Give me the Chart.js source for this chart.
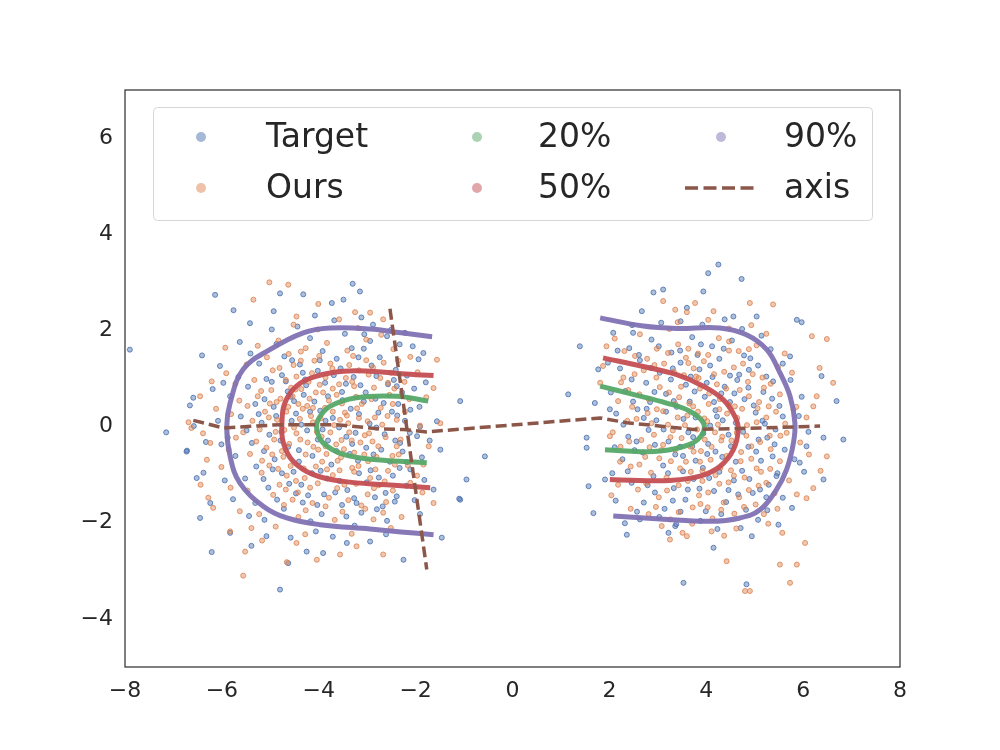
<!DOCTYPE html>
<html>
<head>
<meta charset="utf-8">
<script src="https://cdn.jsdelivr.net/npm/chart.js@4.4.1/dist/chart.umd.min.js"></script>
<style>
  html, body { margin: 0; padding: 0; background: #ffffff; }
  #plot { display: block; }
</style>
</head>
<body>
<canvas id="plot" width="1000" height="750"></canvas>
<script>
// axis ticks
const xTicks = [-8, -6, -4, -2, 0, 2, 4, 6, 8];
const yTicks = [-4, -2, 0, 2, 4, 6];

// Target samples (blue)
const targetLeft = [
  [-7.9,1.6],[-7.15,-0.12],[-6.72,-0.5],[-0.57,-0.62],[-1.10,-1.5],
  [-6.14,2.74],[-5.76,2.42],[-4.80,2.77],[-4.32,2.75],[-3.30,2.97],[-3.15,2.81],[-3.49,2.64],[-3.73,2.57],
  [-4.93,2.40],[-5.42,2.15],[-6.41,1.48],[-6.04,1.26],[-6.59,0.60],[-6.66,0.44],[-6.73,-0.52],[-6.52,-1.07],
  [-6.38,-0.96],[-6.24,-1.59],[-6.45,-1.90],[-6.21,-2.61],[-5.83,-2.21],[-5.08,-2.28],[-4.80,-3.39],[-4.63,-2.84],
  [-4.25,-2.60],[-3.91,-2.63],[-3.42,-2.42],[-2.94,-2.39],[-2.25,-2.77],[-1.46,-2.31],[-0.95,-1.10],[-1.08,-1.52],
  [-1.08,0.53],[-1.56,0.11],[-1.49,-0.48],[-1.63,-1.31],[-1.84,1.53],[-1.94,1.40],[-2.22,1.95],[-2.59,1.88],
  [-2.94,1.78],[-2.39,0.84],[-2.11,0.35],[-1.91,0.0],[-1.97,-0.2],[-2.32,-0.34],[-2.11,-0.89],[-2.39,-1.45],
  [-2.80,-1.72],[-3.22,-1.59],
  [-4.87,1.72],[-4.55,1.38],[-4.18,1.84],[-3.92,1.57],[-3.46,1.93],[-3.07,1.62],[-2.74,1.44],[-2.41,1.18],
  [-5.23,1.31],[-4.76,1.07],[-4.39,1.29],[-4.02,1.16],[-3.63,1.41],[-3.28,1.03],[-2.91,1.27],[-2.57,0.88],
  [-2.18,1.06],[-5.46,0.83],[-5.12,0.57],[-4.68,0.94],[-4.31,0.66],[-3.87,0.91],[-3.52,0.72],[-3.14,0.86],
  [-2.83,0.58],[-2.36,0.47],[-2.03,0.79],[-5.61,0.21],[-5.18,0.08],[-4.93,0.41],[-4.47,0.27],[-4.09,0.52],
  [-3.71,0.18],[-3.34,0.37],[-2.95,0.06],[-2.49,0.31],[-2.12,-0.13],[-5.38,-0.34],[-5.02,-0.17],[-4.63,-0.42],
  [-4.24,-0.08],[-3.81,-0.29],[-3.43,-0.21],[-3.02,-0.44],[-2.64,-0.16],[-2.27,-0.52],[-5.29,-0.83],[-4.91,-0.68],
  [-4.52,-0.94],[-4.13,-0.61],[-3.74,-0.79],[-3.36,-0.57],[-2.93,-0.91],[-2.53,-0.73],[-5.04,-1.27],[-4.61,-1.19],
  [-4.22,-1.43],[-3.83,-1.08],[-3.41,-1.32],[-3.01,-1.16],[-2.62,-1.38],[-2.19,-1.23],[-4.72,-1.71],[-4.33,-1.58],
  [-3.94,-1.82],[-3.52,-1.63],[-3.12,-1.79],[-2.68,-1.66],[-5.31,-1.59],[-5.72,-0.61],[-5.83,0.63],[-5.41,1.52],
  [-3.68,2.21],[-4.44,2.08],[-2.88,2.12],[-2.33,1.71],[-1.92,0.41],[-1.87,-0.64],[-2.02,-1.53],[-3.26,-2.06],
  [-4.06,-2.18],[-5.12,-1.94],[-5.94,-1.12],[-6.08,0.12],[-5.88,-0.23],[-4.36,0.04],[-3.58,-0.02],[-3.97,0.33],
  [-4.77,-0.11],[-2.77,0.29],[-3.19,-0.71],[-4.41,-0.73],[-3.69,1.07],[-4.58,0.62],[-2.47,-1.02],[-3.89,-1.41],
  [-5.52,-1.08],[-5.66,1.03],[-2.22,0.12],[-4.97,0.93],[-3.32,1.63],[-4.14,-0.97],[-3.07,0.52],[-2.71,-0.48],
  [-4.71,1.46],[-4.33,1.12],[-3.98,1.38],[-3.55,1.21],[-3.18,1.44],[-2.81,1.05],[-2.45,0.97],[-5.08,0.99],
  [-4.64,0.73],[-4.26,0.86],[-3.81,0.63],[-3.44,0.89],[-3.03,0.71],[-2.66,0.49],[-2.28,0.71],[-5.31,0.47],
  [-4.88,0.22],[-4.51,0.53],[-4.18,0.31],[-3.86,0.12],[-3.51,0.55],[-3.17,0.26],[-2.81,-0.02],[-2.38,0.23],
  [-5.49,-0.08],[-5.13,-0.51],[-4.79,-0.29],[-4.41,-0.49],[-4.02,-0.27],[-3.63,-0.51],[-3.24,-0.13],[-2.87,-0.58],
  [-2.42,-0.29],[-5.14,-1.09],[-4.76,-0.97],[-4.36,-1.21],[-3.96,-0.92],[-3.57,-1.13],[-3.17,-0.97],[-2.76,-1.06],
  [-2.33,-0.86],[-4.86,-1.52],[-4.47,-1.39],[-4.03,-1.63],[-3.66,-1.37],[-3.27,-1.49],[-2.84,-1.47],[-2.43,-1.56],
  [-5.44,-1.86],[-4.17,-1.97],[-3.43,-1.87],[-2.59,-1.96],[-5.77,-1.51],[-6.01,-0.37],[-5.97,0.91],[-5.63,1.76],
  [-4.97,2.02],[-4.08,2.31],[-3.12,2.27],[-2.51,2.01],[-2.06,1.67],[-1.79,0.92],[-1.71,-0.29],[-1.82,-1.11],
  [-1.91,-1.82],[-2.61,-2.24],[-3.71,-2.29],[-4.58,-2.31],[-5.39,-2.48],[-6.58,0.01],[-6.33,-0.32],[-6.19,0.78],
  [-3.92,-0.06],[-4.56,0.12],[-3.31,-0.36],[-4.28,0.98],[-3.06,1.92],[-2.18,-0.74],[-5.24,0.26],[-4.95,-0.89]
];
const targetRight = [
  [4.25,3.37],[4.04,3.19],[4.73,3.07],[2.91,2.79],[3.94,2.81],[2.67,2.40],[1.39,1.67],[1.15,0.67],
  [1.70,0.49],[1.53,-0.23],[1.53,-0.44],[1.57,-1.24],[1.67,-1.80],[2.36,-2.25],[3.22,-2.21],[4.15,-2.52],
  [3.53,-3.25],[4.83,-3.28],[4.94,-2.28],[5.49,-2.04],[5.87,2.22],[5.97,2.17],[6.38,1.05],[6.69,0.53],
  [6.83,-0.27],[6.42,-0.23],[6.42,-1.10],[6.07,-0.41],[5.93,-0.75],[5.73,1.46],[5.04,2.29],[4.56,2.29],
  [3.60,2.47],[3.11,2.85],[2.49,1.95],[2.08,1.95],[1.77,1.19],[1.91,-1.10],[2.63,-1.93],[3.36,-2.07],
  [5.45,-1.03],[5.11,-1.31],
  [2.41,1.63],[2.87,1.81],[3.28,1.54],[3.71,1.86],[4.12,1.67],[4.53,1.79],[4.91,1.42],[2.22,1.21],
  [2.63,1.38],[3.04,1.12],[3.47,1.33],[3.86,1.19],[4.27,1.41],[4.68,1.08],[5.07,1.27],[5.38,0.94],
  [2.33,0.74],[2.76,0.91],[3.17,0.68],[3.58,0.87],[3.97,0.62],[4.38,0.83],[4.79,0.57],[5.18,0.72],
  [5.51,0.43],[2.14,0.27],[2.58,0.36],[2.97,0.13],[3.39,0.41],[3.78,0.19],[4.19,0.34],[4.61,0.08],
  [5.02,0.29],[5.43,-0.06],[2.39,-0.21],[2.81,-0.07],[3.22,-0.31],[3.63,-0.12],[4.04,-0.36],[4.46,-0.17],
  [4.87,-0.42],[5.26,-0.23],[5.62,-0.48],[2.27,-0.68],[2.69,-0.54],[3.11,-0.81],[3.52,-0.61],[3.93,-0.86],
  [4.33,-0.63],[4.74,-0.92],[5.13,-0.71],[5.47,-0.97],[2.46,-1.17],[2.91,-1.03],[3.33,-1.28],[3.74,-1.09],
  [4.16,-1.34],[4.57,-1.12],[4.96,-1.38],[5.29,-1.21],[2.71,-1.58],[3.14,-1.71],[3.57,-1.52],[3.99,-1.76],
  [4.41,-1.57],[4.82,-1.73],[3.38,-2.03],[4.23,-2.13],[5.07,-1.94],[3.92,2.12],[3.07,2.16],[4.74,2.03],
  [5.33,1.61],[5.74,0.97],[5.91,0.22],[5.82,-0.68],[5.58,-1.48],[2.06,-0.97],[2.03,0.71],[2.17,1.58],
  [3.66,0.52],[4.08,0.02],[3.46,-0.42],[4.27,-0.94],[3.82,1.49],[4.49,0.51],[2.94,-1.37],[5.21,0.06],
  [3.27,0.98],[4.88,1.18],[2.56,-0.31],[4.66,-1.41],[3.71,-0.41],[4.31,0.69],[3.86,-1.29],[2.84,0.51],
  [5.37,-0.62],[4.13,1.03],
  [2.61,1.49],[3.02,1.67],[3.46,1.58],[3.89,1.71],[4.36,1.62],[4.78,1.48],[2.46,0.98],[2.86,1.22],
  [3.31,1.21],[3.68,1.04],[4.08,1.27],[4.49,1.06],[4.87,0.81],[5.24,1.04],[2.49,0.52],[2.93,0.72],
  [3.33,0.53],[3.76,0.73],[4.16,0.51],[4.58,0.69],[4.98,0.44],[5.36,0.58],[2.29,0.04],[2.71,0.18],
  [3.12,-0.06],[3.53,0.16],[3.94,-0.14],[4.34,0.13],[4.76,-0.11],[5.16,0.12],[5.58,0.21],[2.52,-0.49],
  [2.94,-0.38],[3.36,-0.58],[3.78,-0.71],[4.19,-0.52],[4.61,-0.73],[5.03,-0.52],[5.41,-0.37],[2.38,-0.93],
  [2.79,-1.22],[3.21,-0.97],[3.62,-1.31],[4.06,-1.07],[4.46,-1.32],[4.89,-1.09],[5.24,-1.47],[2.57,-1.77],
  [3.03,-1.88],[3.47,-1.77],[3.88,-1.96],[4.31,-1.82],[4.71,-2.11],[5.26,-1.74],[3.47,2.19],[4.38,2.23],
  [5.14,1.89],[5.58,1.31],[5.97,0.62],[6.11,-0.11],[6.02,-0.94],[5.77,-1.69],[2.11,-0.43],[2.01,0.36],
  [2.13,-1.54],[1.97,1.33],[2.47,2.11],[2.32,-2.01],[3.73,-0.22],[4.22,0.21],[3.52,-0.93],[4.51,-0.41],
  [3.17,0.31],[4.01,0.91],[3.31,-1.54],[4.64,0.97],[5.08,-0.27],[2.77,0.37],[4.02,-0.57]
];

// Ours samples (orange)
const oursLeft = [
  [-5.02,3.00],[-4.63,2.95],[-5.35,2.64],[-4.01,2.55],[-3.25,2.38],[-4.46,2.29],[-5.93,1.64],[-6.45,0.63],
  [-6.69,0.09],[-6.63,-0.03],[-6.24,-0.34],[-6.31,-0.69],[-6.28,-1.48],[-6.18,-1.69],[-5.83,-2.18],[-5.39,-2.11],
  [-5.56,-3.10],[-5.52,-2.60],[-4.66,-2.82],[-4.46,-2.42],[-4.04,-2.77],[-3.56,-2.66],[-3.22,-2.49],[-2.67,-2.66],
  [-1.63,-1.59],[-1.56,1.39],[-1.63,0.80],[-1.49,0.07],[-1.84,-0.79],[-2.11,-1.17],[-2.94,2.37],[-2.67,2.23],
  [-4.62,1.51],[-4.27,1.63],[-3.83,1.74],[-3.41,1.58],[-3.02,1.81],[-2.66,1.33],[-5.07,1.44],[-4.81,1.22],
  [-4.46,1.04],[-4.09,1.37],[-3.72,1.21],[-3.37,1.28],[-2.97,1.08],[-2.51,1.12],[-2.23,0.93],[-5.33,0.97],
  [-4.98,0.76],[-4.57,0.81],[-4.21,0.93],[-3.91,0.71],[-3.58,0.88],[-3.23,0.62],[-2.86,0.81],[-2.54,0.66],
  [-2.13,0.57],[-5.47,0.43],[-5.11,0.31],[-4.79,0.58],[-4.42,0.47],[-4.16,0.22],[-3.79,0.54],[-3.46,0.29],
  [-3.11,0.47],[-2.72,0.39],[-2.39,0.14],[-5.56,-0.12],[-5.22,-0.06],[-4.86,0.14],[-4.51,-0.02],[-4.12,0.09],
  [-3.76,-0.12],[-3.39,0.07],[-3.05,-0.18],[-2.69,0.04],[-2.31,-0.27],[-5.42,-0.57],[-5.08,-0.44],[-4.73,-0.63],
  [-4.38,-0.27],[-4.01,-0.48],[-3.64,-0.37],[-3.27,-0.54],[-2.89,-0.31],[-2.48,-0.61],[-5.18,-0.96],[-4.84,-0.88],
  [-4.47,-1.13],[-4.06,-0.83],[-3.71,-1.01],[-3.31,-0.86],[-2.94,-1.07],[-2.57,-0.92],[-2.16,-0.81],[-4.94,-1.42],
  [-4.54,-1.52],[-4.18,-1.27],[-3.79,-1.48],[-3.39,-1.53],[-2.99,-1.41],[-2.61,-1.57],[-4.42,-1.88],[-3.67,-1.94],
  [-2.87,-1.93],[-5.47,-1.33],[-5.71,-0.23],[-5.64,0.54],[-5.26,1.68],[-4.02,2.02],[-3.19,2.05],[-2.46,1.61],
  [-1.96,1.13],[-1.91,0.02],[-1.97,-1.02],[-2.29,-1.88],[-4.89,-2.08],[-5.63,-1.76],[-6.01,-0.84],[-6.12,0.37],
  [-5.91,1.11],[-4.33,0.37],[-3.94,-0.21],[-3.52,0.48],[-4.67,0.31],[-3.17,0.18],[-4.27,-0.58],[-3.61,-0.71],
  [-2.81,-0.63],[-4.92,-0.27],[-3.86,1.02],[-3.02,1.38],[-4.37,1.56],[-3.47,-1.21],[-2.76,-1.22],[-4.68,-1.31],
  [-5.26,0.63],[-2.58,0.22],[-3.32,-0.29],[-4.06,0.71],[-4.58,-0.82],[-3.68,0.03],[-2.98,-0.72],[-3.84,-0.57],
  [-4.19,0.58],[-3.44,1.01],[-2.39,-0.41],[-5.01,0.48],[-4.76,-0.51],[-3.27,0.84],[-2.73,1.01],[-4.48,0.77],
  [-3.57,-0.91],[-4.13,-1.59],[-3.12,-1.64],[-5.17,-0.71],[-3.99,1.47],[-2.64,-1.14],[-4.29,-1.07],
  [-4.52,1.28],[-4.14,1.11],[-3.76,1.31],[-3.29,1.47],[-2.88,1.23],[-2.36,1.37],[-4.95,1.17],[-4.68,0.97],
  [-4.36,0.78],[-3.98,0.87],[-3.63,0.66],[-3.31,0.93],[-2.91,0.57],[-2.44,0.79],[-5.19,0.74],[-4.87,0.51],
  [-4.54,0.63],[-4.24,0.43],[-3.87,0.39],[-3.56,0.14],[-3.21,0.38],[-2.84,0.19],[-2.47,0.47],[-5.37,0.12],
  [-5.03,0.19],[-4.71,-0.07],[-4.39,0.16],[-4.04,-0.11],[-3.71,0.31],[-3.37,-0.12],[-2.99,0.11],[-2.62,-0.22],
  [-2.22,0.31],[-5.29,-0.31],[-4.96,-0.58],[-4.61,-0.36],[-4.23,-0.33],[-3.86,-0.41],[-3.48,-0.47],[-3.14,-0.33],
  [-2.77,-0.41],[-2.35,-0.58],[-5.02,-0.81],[-4.66,-1.02],[-4.31,-0.87],[-3.93,-0.73],[-3.54,-0.64],[-3.18,-0.82],
  [-2.83,-0.89],[-2.43,-0.79],[-4.81,-1.21],[-4.43,-1.37],[-4.02,-1.18],[-3.62,-1.28],[-3.23,-1.19],[-2.86,-1.28],
  [-2.47,-1.33],[-4.72,-1.63],[-4.27,-1.74],[-3.86,-1.66],[-3.51,-1.77],[-3.04,-1.71],[-2.67,-1.79],[-5.23,-1.82],
  [-5.82,-1.27],[-5.86,-0.48],[-5.81,0.26],[-5.72,0.89],[-5.49,1.29],[-4.83,1.79],[-4.52,2.12],[-3.58,2.23],
  [-2.71,1.91],[-2.11,1.45],[-1.78,0.61],[-1.73,-0.41],[-1.86,-1.37],[-2.51,-2.11],[-3.32,-2.23],[-4.28,-2.24],
  [-5.17,-2.37],[-6.39,-0.14],[-6.21,0.94],[-6.44,-1.21],[-3.96,0.17],[-4.46,-0.14],[-3.42,0.23],[-3.83,-0.89],
  [-4.12,0.39],[-3.06,-0.58],[-4.63,0.41],[-3.27,-0.94],[-3.71,0.79],[-2.57,0.91],[-4.89,-0.11],[-3.53,-0.28],
  [-4.11,-0.42],[-2.96,-0.14],[-4.37,1.37],[-3.17,1.17]
];
const oursRight = [
  [3.11,2.61],[3.77,2.57],[4.90,2.57],[5.38,2.54],[3.36,2.43],[3.60,2.38],[4.15,2.40],[6.18,1.88],
  [6.49,1.82],[6.62,0.91],[6.28,0.63],[6.49,-0.62],[6.21,-1.28],[6.07,-1.49],[6.04,-2.42],[5.87,-2.87],
  [5.73,-3.25],[5.52,-2.87],[4.90,-3.42],[4.80,-3.42],[4.42,-2.80],[3.60,-2.28],[3.25,-2.35],[2.01,-0.2],
  [1.87,1.26],[1.94,1.67],[1.81,0.91],[5.66,-0.13],[5.80,0.35],[6.21,0.42],
  [2.53,1.47],[2.98,1.62],[3.42,1.71],[3.83,1.52],[4.26,1.84],[4.67,1.57],[5.04,1.69],[2.29,1.02],
  [2.71,1.17],[3.13,1.31],[3.54,1.07],[3.95,1.36],[4.37,1.14],[4.76,1.31],[5.16,1.02],[5.48,1.24],
  [2.18,0.53],[2.62,0.67],[3.04,0.82],[3.44,0.61],[3.87,0.79],[4.28,0.57],[4.69,0.76],[5.09,0.51],
  [5.52,0.67],[2.37,0.12],[2.79,0.28],[3.21,0.04],[3.61,0.23],[4.02,0.11],[4.43,0.27],[4.84,0.03],
  [5.24,0.19],[5.63,0.06],[2.23,-0.42],[2.66,-0.28],[3.07,-0.49],[3.49,-0.24],[3.89,-0.51],[4.31,-0.29],
  [4.72,-0.53],[5.11,-0.32],[5.53,-0.19],[2.44,-0.83],[2.86,-0.96],[3.27,-0.72],[3.68,-0.94],[4.09,-0.69],
  [4.51,-0.91],[4.93,-0.67],[5.32,-0.88],[2.59,-1.31],[3.02,-1.47],[3.43,-1.22],[3.85,-1.43],[4.27,-1.19],
  [4.68,-1.47],[5.08,-1.23],[5.41,-1.39],[2.81,-1.82],[3.26,-1.93],[3.72,-1.68],[4.13,-1.91],[4.58,-1.81],
  [5.02,-1.62],[3.51,-2.21],[4.37,-2.27],[5.28,-2.02],[3.24,2.03],[4.04,2.22],[4.93,2.11],[5.62,1.52],
  [5.86,0.41],[5.94,-0.33],[5.71,-1.12],[2.07,-0.12],[2.04,-1.43],[2.11,1.83],[3.73,0.42],[4.18,-0.12],
  [3.36,0.47],[4.59,0.42],[3.97,-0.27],[3.18,-1.06],[4.42,-0.61],[3.79,1.04],[2.92,-0.17],[4.86,0.93],
  [5.33,-0.47],[3.58,-0.73],[4.22,0.88],[2.47,0.41],[4.79,-1.06],[3.11,0.32],[3.92,-1.13],[5.19,0.81],
  [2.74,-0.63],[4.47,1.58],[3.63,1.32],[4.05,0.47],[3.31,-0.08],[4.63,-0.13],[2.97,1.02],[3.81,-0.06],
  [4.36,-1.58],[5.04,-0.87],
  [2.78,1.41],[3.21,1.53],[3.63,1.62],[4.04,1.49],[4.47,1.77],[4.88,1.61],[2.52,1.09],[2.93,1.28],
  [3.33,1.14],[3.74,1.21],[4.16,1.09],[4.57,1.23],[4.96,1.09],[5.33,0.89],[2.39,0.76],[2.81,0.57],
  [3.23,0.71],[3.65,0.48],[4.06,0.69],[4.47,0.46],[4.88,0.63],[5.29,0.42],[2.56,0.16],[2.98,0.36],
  [3.41,0.19],[3.83,0.31],[4.24,0.04],[4.64,0.18],[5.04,0.09],[5.44,0.31],[2.41,-0.31],[2.83,-0.43],
  [3.26,-0.22],[3.67,-0.42],[4.11,-0.42],[4.52,-0.29],[4.93,-0.41],[5.31,-0.19],[2.62,-0.79],[3.03,-0.66],
  [3.46,-0.87],[3.87,-0.73],[4.29,-0.86],[4.71,-0.72],[5.13,-0.94],[5.52,-0.72],[2.76,-1.18],[3.19,-1.33],
  [3.62,-1.13],[4.04,-1.37],[4.46,-1.16],[4.88,-1.32],[5.24,-1.17],[2.96,-1.67],[3.43,-1.78],[3.88,-1.61],
  [4.31,-1.73],[4.78,-1.67],[5.19,-1.82],[3.71,-2.02],[4.62,-2.12],[5.47,-1.71],[3.41,2.17],[4.47,2.04],
  [5.24,1.93],[5.77,1.12],[6.07,0.19],[6.12,-0.58],[5.87,-1.41],[2.22,-0.73],[2.24,0.92],[2.18,-1.21],
  [2.31,1.57],[2.63,1.92],[2.44,-1.71],[3.08,-2.07],[4.11,-2.18],[5.57,-2.21],[6.36,-0.92],[6.34,1.22],
  [3.56,0.03],[3.96,0.17],[4.33,-0.21],[3.74,-0.52],[4.41,0.79],[3.48,0.83],[4.19,-1.01],[3.11,-0.38],
  [4.83,-0.19],[3.84,1.01],[4.57,-1.02],[2.87,0.07],[5.06,0.38],[3.92,-0.92],[4.27,0.36],[3.36,-0.48],
  [4.74,0.37],[3.58,1.43],[4.03,-1.68]
];

// level curves
const p20Left = [[-1.77,-0.75],[-2.80,-0.69],[-3.49,-0.58],[-3.91,-0.34],[-4.04,-0.06],[-4.01,0.15],[-3.77,0.42],[-3.22,0.60],[-2.39,0.63],[-1.74,0.53]];
const p20Right = [[1.81,0.84],[2.49,0.67],[3.18,0.49],[3.66,0.32],[3.94,0.08],[3.91,-0.17],[3.66,-0.37],[3.05,-0.51],[2.36,-0.51],[1.91,-0.48]];
const p50Left = [[-1.70,-1.27],[-2.60,-1.21],[-3.49,-1.14],[-4.11,-1.0],[-4.53,-0.72],[-4.73,-0.34],[-4.76,0.08],[-4.70,0.49],[-4.46,0.84],[-4.04,1.05],[-3.49,1.15],[-2.94,1.15],[-2.3,1.10],[-1.63,1.06]];
const p50Right = [[1.87,1.43],[2.70,1.25],[3.39,1.08],[3.94,0.84],[4.35,0.56],[4.59,0.21],[4.66,-0.06],[4.56,-0.48],[4.28,-0.83],[3.87,-1.03],[3.25,-1.12],[2.6,-1.12],[2.01,-1.10]];
const p90Left = [[-1.63,-2.25],[-2.3,-2.19],[-2.94,-2.13],[-3.97,-2.04],[-4.66,-1.90],[-5.14,-1.66],[-5.63,-1.17],[-5.83,-0.62],[-5.90,0.0],[-5.83,0.49],[-5.56,1.19],[-5.01,1.60],[-4.32,1.95],[-3.77,2.05],[-2.94,2.03],[-2.3,1.95],[-1.66,1.87]];
const p90Right = [[1.81,2.26],[2.70,2.09],[3.39,2.04],[4.28,2.05],[4.83,1.91],[5.25,1.60],[5.52,1.12],[5.73,0.63],[5.83,0.08],[5.80,-0.34],[5.66,-0.89],[5.45,-1.31],[5.11,-1.73],[4.70,-1.90],[4.08,-1.97],[3.05,-1.92],[2.08,-1.86]];

// dashed axes
const axisMain = [[-6.59,0.13],[-5.97,-0.03],[-4.80,0.04],[-3.63,0.04],[-2.74,-0.05],[-2.25,-0.06],[-1.77,-0.11],[1.81,0.18],[2.36,0.08],[3.73,-0.06],[5.11,-0.03],[6.35,0.01]];
const axisCross = [[-2.53,2.45],[-1.77,-2.97]];

const BLUE = '76,114,176', ORANGE = '221,132,82', GREEN = '85,168,104', RED = '196,78,82', PURPLE = '129,114,179';
const BROWN = '#8c5649';

function pts(arr) { return arr.map(p => ({ x: p[0], y: p[1] })); }

function cloud(label, data, rgb, order) {
  return {
    label: label, data: pts(data), order: order,
    pointRadius: 2.5, pointBorderWidth: 1,
    backgroundColor: 'rgba(' + rgb + ',0.45)',
    borderColor: 'rgba(' + rgb + ',0.85)'
  };
}
function curve(label, data, rgb) {
  return {
    label: label, data: pts(data), order: 1, showLine: true, tension: 0.4,
    pointRadius: 0, borderWidth: 5, borderColor: 'rgba(' + rgb + ',0.95)'
  };
}
function dashed(data) {
  return {
    label: 'axis', data: pts(data), order: 0, showLine: true, tension: 0,
    pointRadius: 0, borderWidth: 3.5, borderColor: BROWN, borderDash: [11, 5]
  };
}

const datasets = [
  cloud('Target', targetLeft, BLUE, 4),
  cloud('Target', targetRight, BLUE, 4),
  cloud('Ours', oursLeft, ORANGE, 3),
  cloud('Ours', oursRight, ORANGE, 3),
  curve('20%', p20Left, GREEN), curve('20%', p20Right, GREEN),
  curve('50%', p50Left, RED), curve('50%', p50Right, RED),
  curve('90%', p90Left, PURPLE), curve('90%', p90Right, PURPLE),
  dashed(axisMain), dashed(axisCross)
];

// frame around the plot area
const framePlugin = {
  id: 'frame',
  afterDatasetsDraw(chart) {
    const a = chart.chartArea, ctx = chart.ctx;
    ctx.save();
    ctx.strokeStyle = '#333333';
    ctx.lineWidth = 1.25;
    ctx.strokeRect(a.left, a.top, a.right - a.left, a.bottom - a.top);
    ctx.restore();
  }
};

// matplotlib-like legend box, 3 columns
const legendPlugin = {
  id: 'boxLegend',
  afterDraw(chart) {
    const ctx = chart.ctx;
    const items = [
      { text: 'Target', rgb: BLUE, col: 0, row: 0 },
      { text: 'Ours', rgb: ORANGE, col: 0, row: 1 },
      { text: '20%', rgb: GREEN, col: 1, row: 0 },
      { text: '50%', rgb: RED, col: 1, row: 1 },
      { text: '90%', rgb: PURPLE, col: 2, row: 0 },
      { text: 'axis', line: true, col: 2, row: 1 }
    ];
    const markX = [201, 477, 721], textX = [266, 538, 784], rowY = [137, 188];
    ctx.save();
    ctx.beginPath();
    ctx.roundRect(153.5, 107.5, 719, 113, 4);
    ctx.fillStyle = 'rgba(255,255,255,0.8)';
    ctx.fill();
    ctx.strokeStyle = '#d6d6d6';
    ctx.lineWidth = 1;
    ctx.stroke();
    ctx.font = '33px "DejaVu Sans"';
    ctx.textBaseline = 'middle';
    ctx.textAlign = 'left';
    items.forEach(it => {
      const y = rowY[it.row];
      if (it.line) {
        ctx.beginPath();
        ctx.setLineDash([13, 5.5]);
        ctx.strokeStyle = BROWN;
        ctx.lineWidth = 3.5;
        ctx.moveTo(685, y);
        ctx.lineTo(755, y);
        ctx.stroke();
        ctx.setLineDash([]);
      } else {
        ctx.beginPath();
        ctx.arc(markX[it.col], y, 5, 0, Math.PI * 2);
        ctx.fillStyle = 'rgba(' + it.rgb + ',0.5)';
        ctx.fill();
      }
      ctx.fillStyle = '#262626';
      ctx.fillText(it.text, textX[it.col], y + 1);
    });
    ctx.restore();
  }
};

function fmt(v) { return v < 0 ? '\u2212' + Math.abs(v) : String(v); }

new Chart(document.getElementById('plot').getContext('2d'), {
  type: 'scatter',
  data: { datasets: datasets },
  options: {
    responsive: false,
    animation: false,
    devicePixelRatio: 1,
    layout: { padding: { top: 90, right: 100, left: 0, bottom: 0 } },
    plugins: { legend: { display: false }, tooltip: { enabled: false } },
    scales: {
      x: {
        type: 'linear', min: -8, max: 8,
        afterFit: s => { s.height = 83; },
        afterBuildTicks: s => { s.ticks = xTicks.map(v => ({ value: v })); },
        grid: { display: false, drawTicks: false },
        border: { display: false },
        ticks: { color: '#262626', font: { family: 'DejaVu Sans', size: 22 }, padding: 11, maxRotation: 0, callback: fmt }
      },
      y: {
        type: 'linear', min: -5, max: 7,
        afterFit: s => { s.width = 125; },
        afterBuildTicks: s => { s.ticks = yTicks.map(v => ({ value: v })); },
        grid: { display: false, drawTicks: false },
        border: { display: false },
        ticks: { color: '#262626', font: { family: 'DejaVu Sans', size: 22 }, padding: 12, callback: fmt }
      }
    }
  },
  plugins: [framePlugin, legendPlugin]
});
</script>
</body>
</html>
